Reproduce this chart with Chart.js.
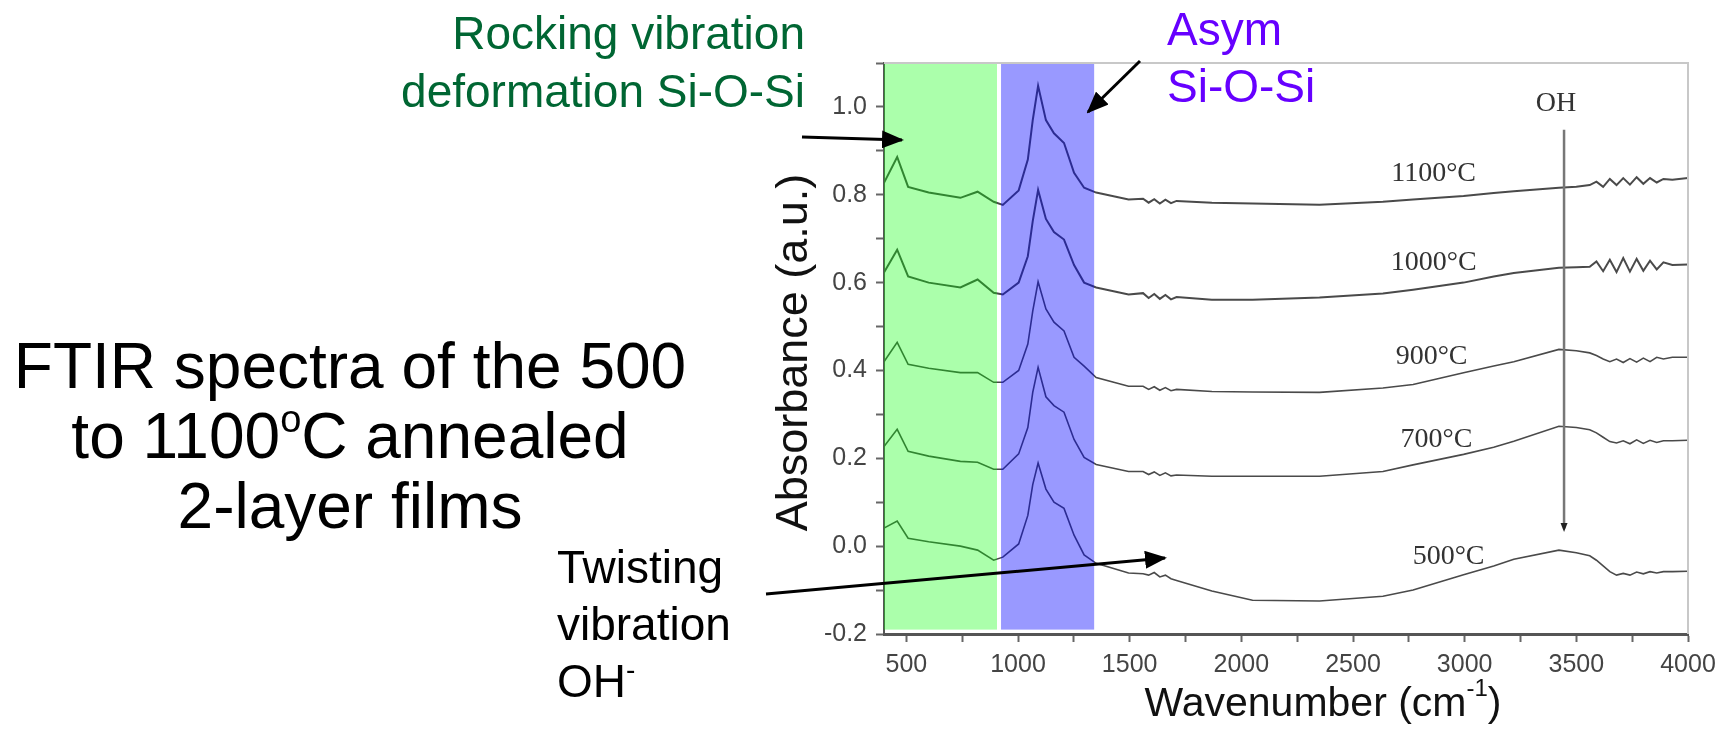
<!DOCTYPE html>
<html>
<head>
<meta charset="utf-8">
<title>FTIR spectra</title>
<script src="https://cdn.jsdelivr.net/npm/chart.js@4.4.1/dist/chart.umd.min.js"></script>
<style>
  body { margin: 0; background: #fff; }
  #wrap { position: relative; width: 1729px; height: 730px; overflow: hidden;
          font-family: "Liberation Sans", Arial, sans-serif; }
  #ftir { position: absolute; left: 0; top: 0; }
  #arrows { position: absolute; left: 0; top: 0; pointer-events: none; }
  .note { position: absolute; font-size: 46px; line-height: 57px; white-space: nowrap; }
  .note sup { font-size: 28px; line-height: 0; vertical-align: 18px; }
  #rocking { right: 924px; top: 4px; line-height: 58px; text-align: right; color: #006633; }
  #asym { left: 1167px; top: 1px; color: #6600ff; }
  #twisting { left: 557px; top: 539px; color: #000; }
  #caption { position: absolute; left: 0; width: 700px; top: 331px; text-align: center;
             font-size: 64px; line-height: 70px; color: #000; }
  #caption sup { font-size: 38px; line-height: 0; vertical-align: 26px; }
</style>
</head>
<body>
<div id="wrap">
  <canvas id="ftir" width="1729" height="730"></canvas>
  <div class="note" id="rocking">Rocking vibration<br>deformation Si-O-Si</div>
  <div class="note" id="asym">Asym<br>Si-O-Si</div>
  <div class="note" id="twisting">Twisting<br>vibration<br>OH<sup>-</sup></div>
  <div id="caption">FTIR spectra of the 500<br>to 1100<sup>o</sup>C annealed<br>2-layer films</div>
  <svg id="arrows" width="1729" height="730">
    <defs>
      <marker id="head" markerUnits="userSpaceOnUse" markerWidth="22" markerHeight="18"
              refX="20" refY="9" orient="auto">
        <path d="M0,0 L22,9 L0,18 Z" fill="#000"></path>
      </marker>
    </defs>
    <line x1="802" y1="137" x2="902" y2="140" stroke="#000" stroke-width="3" marker-end="url(#head)"></line>
    <line x1="1140" y1="61" x2="1088" y2="112" stroke="#000" stroke-width="3" marker-end="url(#head)"></line>
    <line x1="766" y1="594" x2="1165" y2="558" stroke="#000" stroke-width="3" marker-end="url(#head)"></line>
  </svg>
</div>
<script>
// wavenumber axis (cm-1) shared by all five spectra
const wavenumbers = [400, 459, 508, 600, 742, 819, 891, 932, 1003, 1044, 1066, 1090, 1125, 1161, 1206, 1251,
  1296, 1350, 1495,
  1560, 1585, 1610, 1635, 1660, 1685, 1710,
  1868, 2050, 2350, 2634, 2769, 2995, 3130, 3220, 3422, 3500,
  3560, 3590, 3620, 3650, 3680, 3710, 3740, 3770, 3800, 3830, 3860, 3890,
  3930, 4000];

// absorbance (a.u.), curves are offset as in the original figure
const abs1100 = [0.827, 0.886, 0.818, 0.805, 0.793, 0.807, 0.784, 0.777, 0.81, 0.88, 0.97, 1.048, 0.97, 0.94, 0.918, 0.85,
  0.816, 0.805, 0.789,
  0.791, 0.782, 0.790, 0.780, 0.789, 0.781, 0.786,
  0.782, 0.780, 0.777, 0.784, 0.789, 0.797, 0.804, 0.808, 0.816, 0.818,
  0.822, 0.830, 0.818, 0.836, 0.822, 0.838, 0.823, 0.840, 0.825, 0.838, 0.828, 0.836,
  0.834, 0.838];
const abs1000 = [0.623, 0.675, 0.614, 0.600, 0.589, 0.607, 0.577, 0.573, 0.60, 0.66, 0.74, 0.811, 0.745, 0.715, 0.698, 0.64,
  0.60, 0.589, 0.573,
  0.576, 0.565, 0.574, 0.563, 0.572, 0.562, 0.567,
  0.561, 0.561, 0.566, 0.575, 0.584, 0.60, 0.614, 0.622, 0.634, 0.635,
  0.636, 0.648, 0.626, 0.652, 0.624, 0.656, 0.625, 0.654, 0.627, 0.650, 0.630, 0.646,
  0.640, 0.641];
const abs900 = [0.42, 0.464, 0.414, 0.405, 0.395, 0.395, 0.373, 0.373, 0.40, 0.46, 0.535, 0.602, 0.54, 0.51, 0.49, 0.43,
  0.41, 0.384, 0.364,
  0.364, 0.357, 0.363, 0.355, 0.361, 0.354, 0.357,
  0.352, 0.351, 0.35, 0.36, 0.368, 0.395, 0.41, 0.42, 0.448, 0.445,
  0.440, 0.434, 0.426, 0.420, 0.426, 0.418, 0.427, 0.419, 0.428, 0.420, 0.430, 0.426,
  0.430, 0.43];
const abs700 = [0.227, 0.266, 0.216, 0.205, 0.193, 0.191, 0.175, 0.175, 0.21, 0.27, 0.35, 0.407, 0.34, 0.32, 0.305, 0.243,
  0.202, 0.186, 0.17,
  0.170, 0.163, 0.169, 0.161, 0.167, 0.160, 0.162,
  0.159, 0.159, 0.159, 0.17, 0.185, 0.209, 0.225, 0.239, 0.273, 0.27,
  0.265, 0.258, 0.248, 0.238, 0.235, 0.240, 0.233, 0.242, 0.234, 0.241, 0.236, 0.240,
  0.240, 0.241];
const abs500 = [0.041, 0.057, 0.018, 0.01, 0.0, -0.009, -0.032, -0.025, 0.005, 0.07, 0.14, 0.189, 0.13, 0.10, 0.086, 0.025,
  -0.02, -0.039, -0.061,
  -0.063, -0.066, -0.060, -0.070, -0.066, -0.074, -0.078,
  -0.102, -0.123, -0.125, -0.114, -0.1, -0.065, -0.045, -0.03, -0.009, -0.015,
  -0.022, -0.032, -0.045, -0.058, -0.066, -0.062, -0.066, -0.059, -0.063, -0.058, -0.061, -0.058,
  -0.058, -0.057];

const temperatures = ['1100°C', '1000°C', '900°C', '700°C', '500°C'];
const spectra = [abs1100, abs1000, abs900, abs700, abs500];

// where each temperature label sits (wavenumber, absorbance)
const labelWavenumber = [2861, 2861, 2852, 2874, 2928];
const labelAbsorbance = [0.848, 0.645, 0.432, 0.243, -0.023];

// highlighted bands (cm-1)
const rockingBand = [400, 906];
const asymBand = [924, 1341];
const ohWavenumber = 3445;

const bandsPlugin = {
    id: 'bands',
    afterDatasetsDraw(chart) {
        const { ctx, scales: { x, y } } = chart;
        const top = y.getPixelForValue(1.1);
        const bottom = y.getPixelForValue(-0.19);
        ctx.save();
        ctx.fillStyle = 'rgba(0,255,0,0.33)';
        let l = x.getPixelForValue(rockingBand[0]), r = x.getPixelForValue(rockingBand[1]);
        ctx.fillRect(l, top, r - l, bottom - top);
        ctx.fillStyle = 'rgba(0,0,255,0.4)';
        l = x.getPixelForValue(asymBand[0]); r = x.getPixelForValue(asymBand[1]);
        ctx.fillRect(l, top, r - l, bottom - top);
        ctx.restore();
    }
};

const labelsPlugin = {
    id: 'labels',
    afterDraw(chart) {
        const { ctx, chartArea: a, scales: { x, y } } = chart;
        ctx.save();
        // light frame on top and right
        ctx.strokeStyle = '#c8c8c8';
        ctx.lineWidth = 2;
        ctx.beginPath();
        ctx.moveTo(a.left, a.top);
        ctx.lineTo(a.right, a.top);
        ctx.lineTo(a.right, a.bottom);
        ctx.stroke();

        // temperature labels
        ctx.fillStyle = '#333';
        ctx.font = '28px "Liberation Serif", "Times New Roman", serif';
        ctx.textAlign = 'center';
        ctx.textBaseline = 'middle';
        temperatures.forEach((t, i) => {
            ctx.fillText(t, x.getPixelForValue(labelWavenumber[i]), y.getPixelForValue(labelAbsorbance[i]));
        });

        // OH marker
        const ox = x.getPixelForValue(ohWavenumber);
        ctx.fillText('OH', ox - 8, y.getPixelForValue(1.007));
        ctx.strokeStyle = '#777';
        ctx.lineWidth = 2.5;
        ctx.beginPath();
        ctx.moveTo(ox, y.getPixelForValue(0.948));
        ctx.lineTo(ox, y.getPixelForValue(0.04));
        ctx.stroke();
        ctx.fillStyle = '#222';
        const tip = y.getPixelForValue(0.032);
        ctx.beginPath();
        ctx.moveTo(ox - 3.5, tip - 9);
        ctx.lineTo(ox + 3.5, tip - 9);
        ctx.lineTo(ox, tip);
        ctx.closePath();
        ctx.fill();

        // axis titles
        ctx.fillStyle = '#111';
        ctx.font = '45px "Liberation Sans", Arial, sans-serif';
        ctx.save();
        ctx.translate(a.left - 89, (a.top + a.bottom) / 2 + 4);
        ctx.rotate(-Math.PI / 2);
        ctx.fillText('Absorbance (a.u.)', 0, 0);
        ctx.restore();

        const main = 'Wavenumber (cm';
        const sup = '-1';
        ctx.font = '41px "Liberation Sans", Arial, sans-serif';
        const wMain = ctx.measureText(main).width;
        ctx.font = '24px "Liberation Sans", Arial, sans-serif';
        const wSup = ctx.measureText(sup).width;
        ctx.font = '41px "Liberation Sans", Arial, sans-serif';
        const wEnd = ctx.measureText(')').width;
        let sx = (a.left + a.right) / 2 + 37 - (wMain + wSup + wEnd) / 2;
        const base = 716;
        ctx.textAlign = 'left';
        ctx.textBaseline = 'alphabetic';
        ctx.fillText(main, sx, base);
        sx += wMain;
        ctx.font = '24px "Liberation Sans", Arial, sans-serif';
        ctx.fillText(sup, sx, base - 20);
        sx += wSup;
        ctx.font = '41px "Liberation Sans", Arial, sans-serif';
        ctx.fillText(')', sx, base);
        ctx.restore();
    }
};

const tickFont = { family: '"Liberation Sans", Arial, sans-serif', size: 25 };

const ctx = document.getElementById('ftir').getContext('2d');
const ftirChart = new Chart(ctx, {
    type: 'line',
    data: {
        datasets: spectra.map((values, i) => ({
            label: temperatures[i],
            data: wavenumbers.map((w, j) => ({ x: w, y: values[j] })),
            borderColor: '#4a4a4a',
            borderWidth: i < 2 ? 2 : 1.6,
            pointRadius: 0,
            tension: 0,
            fill: false
        }))
    },
    options: {
        responsive: false,
        animation: false,
        layout: { padding: { left: 824, right: 41, top: 63, bottom: 0 } },
        plugins: {
            legend: { display: false },
            tooltip: { enabled: false }
        },
        scales: {
            x: {
                type: 'linear',
                min: 400,
                max: 4000,
                afterFit: scale => { scale.height = 96; },
                ticks: {
                    stepSize: 250,
                    includeBounds: false,
                    autoSkip: false,
                    maxRotation: 0,
                    padding: 8,
                    color: '#444',
                    font: tickFont,
                    callback: v => (v % 500 === 0 ? String(v) : '')
                },
                grid: { drawOnChartArea: false, tickLength: 8, tickWidth: 2, tickColor: '#666' },
                border: { color: '#555', width: 3 }
            },
            y: {
                min: -0.2,
                max: 1.1,
                afterFit: scale => { scale.width = 60; },
                ticks: {
                    stepSize: 0.1,
                    autoSkip: false,
                    padding: 9,
                    color: '#444',
                    font: tickFont,
                    callback: v => {
                        const k = Math.round(v * 10);
                        return (k % 2 === 0 && k <= 10) ? (k / 10).toFixed(1) : '';
                    }
                },
                grid: { drawOnChartArea: false, tickLength: 8, tickWidth: 2, tickColor: '#666' },
                border: { color: '#555', width: 2 }
            }
        }
    },
    plugins: [bandsPlugin, labelsPlugin]
});
</script>
</body>
</html>
